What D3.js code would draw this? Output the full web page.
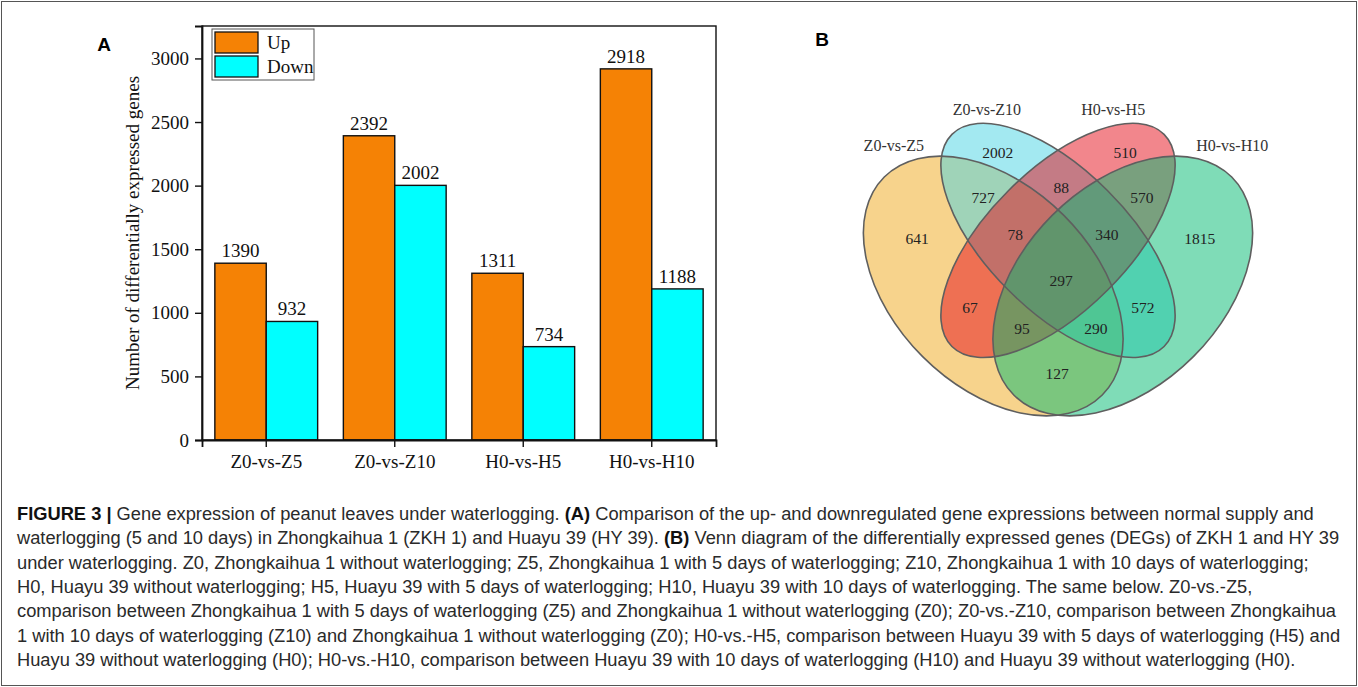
<!DOCTYPE html>
<html>
<head>
<meta charset="utf-8">
<script src="https://cdn.jsdelivr.net/npm/d3@7"></script>
<style>
  body { margin: 0; background: #fff; }
  svg { display: block; }
</style>
</head>
<body>
<svg id="fig"></svg>
<script>
// ---- data ----
const categories = ["Z0-vs-Z5", "Z0-vs-Z10", "H0-vs-H5", "H0-vs-H10"];
const seriesNames = ["Up", "Down"];
const upValues = [1390, 2392, 1311, 2918];
const downValues = [932, 2002, 734, 1188];
const yTicks = [0, 500, 1000, 1500, 2000, 2500, 3000];

const vennSets = ["Z0-vs-Z5", "Z0-vs-Z10", "H0-vs-H5", "H0-vs-H10"];
// region keys: a = Z0-vs-Z5, b = Z0-vs-Z10, c = H0-vs-H5, d = H0-vs-H10
const vennRegions = ["a", "b", "c", "d", "ab", "bc", "cd", "abc", "bcd", "abcd", "ac", "bd", "acd", "abd", "ad"];
const vennCounts = [641, 2002, 510, 1815, 727, 88, 570, 78, 340, 297, 67, 572, 95, 290, 127];

const captionLines = [
  [["b", "FIGURE 3 | "], ["n", "Gene expression of peanut leaves under waterlogging. "], ["b", "(A)"], ["n", " Comparison of the up- and downregulated gene expressions between normal supply and"]],
  [["n", "waterlogging (5 and 10 days) in Zhongkaihua 1 (ZKH 1) and Huayu 39 (HY 39). "], ["b", "(B)"], ["n", " Venn diagram of the differentially expressed genes (DEGs) of ZKH 1 and HY 39"]],
  [["n", "under waterlogging. Z0, Zhongkaihua 1 without waterlogging; Z5, Zhongkaihua 1 with 5 days of waterlogging; Z10, Zhongkaihua 1 with 10 days of waterlogging;"]],
  [["n", "H0, Huayu 39 without waterlogging; H5, Huayu 39 with 5 days of waterlogging; H10, Huayu 39 with 10 days of waterlogging. The same below. Z0-vs.-Z5,"]],
  [["n", "comparison between Zhongkaihua 1 with 5 days of waterlogging (Z5) and Zhongkaihua 1 without waterlogging (Z0); Z0-vs.-Z10, comparison between Zhongkaihua"]],
  [["n", "1 with 10 days of waterlogging (Z10) and Zhongkaihua 1 without waterlogging (Z0); H0-vs.-H5, comparison between Huayu 39 with 5 days of waterlogging (H5) and"]],
  [["n", "Huayu 39 without waterlogging (H0); H0-vs.-H10, comparison between Huayu 39 with 10 days of waterlogging (H10) and Huayu 39 without waterlogging (H0)."]]
];

// ---- layout ----
const W = 1358, H = 687;
const serif = "'Liberation Serif', 'Times New Roman', serif";
const sans = "'Liberation Sans', Arial, sans-serif";

const svg = d3.select("#fig").attr("width", W).attr("height", H);

svg.append("rect")
  .attr("x", 1.5).attr("y", 1.5)
  .attr("width", W - 3).attr("height", H - 3)
  .attr("fill", "none").attr("stroke", "#555").attr("stroke-width", 1);

// ===== panel A: grouped bars =====
const plot = { left: 202, right: 716, top: 26, bottom: 440 };

const x = d3.scaleBand().domain(categories).range([plot.left, plot.right]);
const xSub = d3.scaleBand().domain(seriesNames)
  .range([x.bandwidth() * 0.1, x.bandwidth() * 0.9]);
const y = d3.scaleLinear().domain([0, 3255]).range([plot.bottom, plot.top]);
const color = d3.scaleOrdinal().domain(seriesNames).range(["#F58205", "#00FFFF"]);

const rows = categories.map((c, i) => ({ cat: c, Up: upValues[i], Down: downValues[i] }));

const gA = svg.append("g");

const groups = gA.selectAll(".grp")
  .data(rows)
  .enter().append("g")
  .attr("class", "grp")
  .attr("transform", d => `translate(${x(d.cat)},0)`);

groups.selectAll("rect")
  .data(d => seriesNames.map(s => ({ key: s, value: d[s] })))
  .enter().append("rect")
  .attr("x", d => xSub(d.key))
  .attr("y", d => y(d.value))
  .attr("width", xSub.bandwidth())
  .attr("height", d => y(0) - y(d.value))
  .attr("fill", d => color(d.key))
  .attr("stroke", "#111")
  .attr("stroke-width", 1.4);

groups.selectAll("text.val")
  .data(d => seriesNames.map(s => ({ key: s, value: d[s] })))
  .enter().append("text")
  .attr("class", "val")
  .attr("x", d => xSub(d.key) + xSub.bandwidth() / 2)
  .attr("y", d => y(d.value) - 6)
  .attr("text-anchor", "middle")
  .attr("font-family", serif)
  .attr("font-size", 19)
  .attr("fill", "#111")
  .text(d => d.value);

// frame
gA.append("rect")
  .attr("x", plot.left).attr("y", plot.top)
  .attr("width", plot.right - plot.left).attr("height", plot.bottom - plot.top)
  .attr("fill", "none").attr("stroke", "#111").attr("stroke-width", 1.4);

const yAxis = gA.append("g")
  .attr("transform", `translate(${plot.left},0)`)
  .call(d3.axisLeft(y).tickValues(yTicks).tickFormat(d3.format("d")).tickSize(7).tickPadding(6));
const xAxis = gA.append("g")
  .attr("transform", `translate(0,${plot.bottom})`)
  .call(d3.axisBottom(x).tickSize(7).tickPadding(8));

[yAxis, xAxis].forEach(ax => {
  ax.select(".domain").attr("stroke", "#111").attr("stroke-width", 1.8);
  ax.selectAll(".tick line").attr("stroke", "#111").attr("stroke-width", 1.4);
  ax.selectAll(".tick text")
    .attr("font-family", serif).attr("font-size", 19).attr("fill", "#111");
});

gA.append("text")
  .attr("transform", `translate(135,${(plot.top + plot.bottom) / 2}) rotate(-90)`)
  .attr("text-anchor", "middle")
  .attr("dominant-baseline", "middle")
  .attr("font-family", serif)
  .attr("font-size", 19)
  .attr("fill", "#111")
  .text("Number of differentially expressed genes");

// legend
const legend = gA.append("g").attr("transform", `translate(212,29)`);
legend.append("rect")
  .attr("width", 102).attr("height", 51)
  .attr("fill", "#fff").attr("stroke", "#555").attr("stroke-width", 1);
seriesNames.forEach((s, i) => {
  legend.append("rect")
    .attr("x", 3).attr("y", 3 + i * 24)
    .attr("width", 43).attr("height", 21)
    .attr("fill", color(s)).attr("stroke", "#111").attr("stroke-width", 1.3);
  legend.append("text")
    .attr("x", 55).attr("y", 20 + i * 24)
    .attr("font-family", serif).attr("font-size", 19).attr("fill", "#111")
    .text(s);
});

svg.append("text")
  .attr("x", 104).attr("y", 51)
  .attr("text-anchor", "middle")
  .attr("font-family", sans).attr("font-weight", "bold").attr("font-size", 19)
  .text("A");

// ===== panel B: four-set Venn =====
// unit frame of the Venn template, mapped to pixels
const k = 456;
const vx = d3.scaleLinear().domain([0, 1]).range([1058 - k / 2, 1058 + k / 2]);
const vy = d3.scaleLinear().domain([0.47, 1.47]).range([286, 286 - k]);

const ellipses = [
  { set: "a", cx: 0.358, cy: 0.47, a: 0.338, b: 0.219, rot: 45,  fill: "#EFA719" },
  { set: "b", cx: 0.5,   cy: 0.57, a: 0.329, b: 0.154, rot: 45,  fill: "#47D3E3" },
  { set: "c", cx: 0.5,   cy: 0.57, a: 0.329, b: 0.154, rot: -45, fill: "#E50D19" },
  { set: "d", cx: 0.642, cy: 0.47, a: 0.338, b: 0.219, rot: -45, fill: "#00B96F" }
];

const labelPos = {
  a: [0.191, 0.575], b: [0.368, 0.762], c: [0.647, 0.762], d: [0.811, 0.575],
  ab: [0.336, 0.665], bc: [0.507, 0.685], cd: [0.684, 0.663],
  abc: [0.406, 0.582], bcd: [0.607, 0.582], abcd: [0.507, 0.483],
  ac: [0.307, 0.422], bd: [0.686, 0.422], acd: [0.421, 0.376], abd: [0.583, 0.376],
  ad: [0.498, 0.279]
};
const setLabelPos = [[0.140, 0.779], [0.344, 0.856], [0.621, 0.856], [0.882, 0.779]];

const gB = svg.append("g");

gB.selectAll("ellipse.fill")
  .data(ellipses)
  .enter().append("ellipse")
  .attr("class", "fill")
  .attr("cx", d => vx(d.cx)).attr("cy", d => vy(d.cy))
  .attr("rx", d => d.a * k).attr("ry", d => d.b * k)
  .attr("transform", d => `rotate(${d.rot},${vx(d.cx)},${vy(d.cy)})`)
  .attr("fill", d => d.fill).attr("fill-opacity", 0.5)
  .attr("stroke", "none");

gB.selectAll("ellipse.edge")
  .data(ellipses)
  .enter().append("ellipse")
  .attr("class", "edge")
  .attr("cx", d => vx(d.cx)).attr("cy", d => vy(d.cy))
  .attr("rx", d => d.a * k).attr("ry", d => d.b * k)
  .attr("transform", d => `rotate(${d.rot},${vx(d.cx)},${vy(d.cy)})`)
  .attr("fill", "none")
  .attr("stroke", "#5f5f5f").attr("stroke-width", 1.6);

gB.selectAll("text.count")
  .data(vennRegions.map((r, i) => ({ region: r, count: vennCounts[i] })))
  .enter().append("text")
  .attr("class", "count")
  .attr("x", d => vx(labelPos[d.region][0]))
  .attr("y", d => vy(labelPos[d.region][1]))
  .attr("text-anchor", "middle")
  .attr("dominant-baseline", "central")
  .attr("font-family", serif).attr("font-size", 15.5).attr("fill", "#222")
  .text(d => d.count);

gB.selectAll("text.set")
  .data(vennSets)
  .enter().append("text")
  .attr("class", "set")
  .attr("x", (d, i) => vx(setLabelPos[i][0]))
  .attr("y", (d, i) => vy(setLabelPos[i][1]))
  .attr("text-anchor", "middle")
  .attr("dominant-baseline", "central")
  .attr("font-family", serif).attr("font-size", 16).attr("fill", "#333")
  .text(d => d);

svg.append("text")
  .attr("x", 822).attr("y", 46)
  .attr("text-anchor", "middle")
  .attr("font-family", sans).attr("font-weight", "bold").attr("font-size", 19)
  .text("B");

// ===== caption =====
const cap = svg.append("g").attr("font-family", sans).attr("font-size", 18.3).attr("fill", "#2a2a2a");
captionLines.forEach((line, i) => {
  const t = cap.append("text").attr("x", 17).attr("y", 520 + i * 24.35);
  line.forEach(([kind, str]) => {
    t.append("tspan")
      .attr("font-weight", kind === "b" ? "bold" : "normal")
      .attr("fill", kind === "b" ? "#111" : null)
      .text(str);
  });
});
</script>
</body>
</html>
